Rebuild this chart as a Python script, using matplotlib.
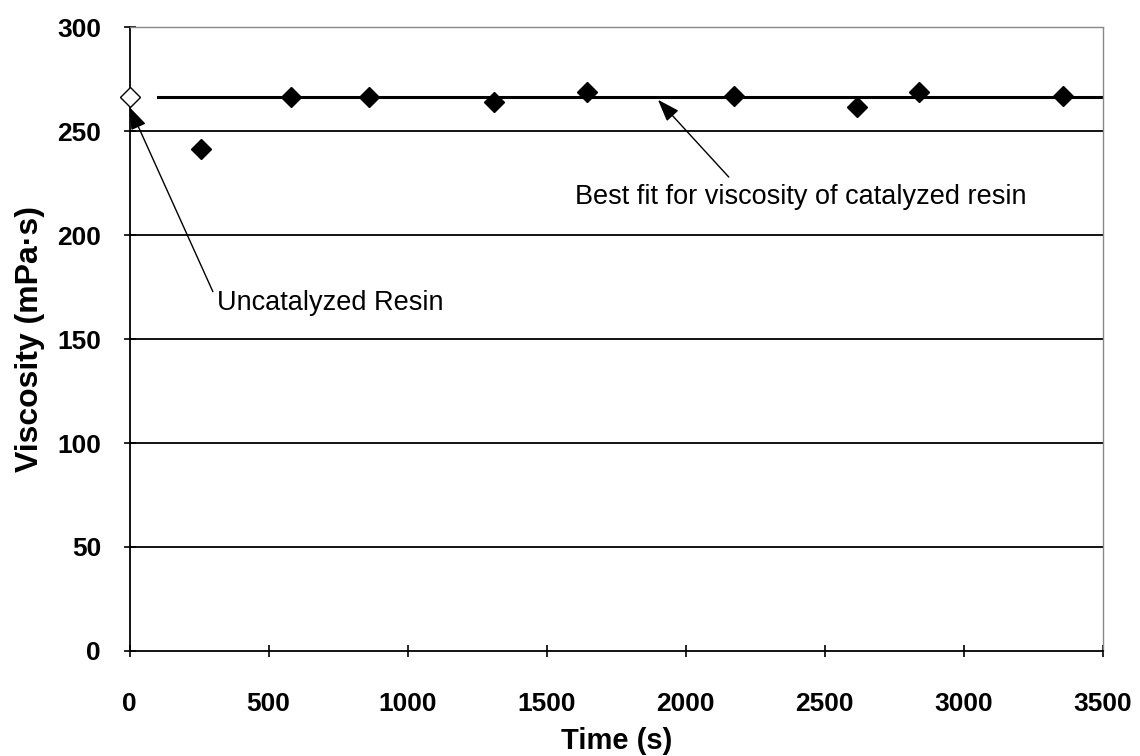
import matplotlib
matplotlib.use("Agg")
import matplotlib.pyplot as plt

# data
uncat_t = [0]
uncat_v = [266.5]
cat_t = [257, 581, 861, 1310, 1645, 2175, 2616, 2839, 3357]
cat_v = [241.3, 266.5, 266.5, 264.0, 268.8, 266.8, 261.7, 268.9, 266.8]
fit_t = [103, 3500]
fit_v = [266.3, 266.3]
x_ticks = [0, 500, 1000, 1500, 2000, 2500, 3000, 3500]
y_ticks = [0, 50, 100, 150, 200, 250, 300]

plt.rcParams['font.family'] = ['Liberation Sans', 'DejaVu Sans']

fig = plt.figure(figsize=(11.4, 7.56), dpi=100)
ax = fig.add_axes([129.5 / 1140, 1 - 651 / 756, (1103 - 129.5) / 1140, (651 - 27) / 756])
ax.set_xlim(0, 3500)
ax.set_ylim(0, 300)

for y in y_ticks[1:-1]:
    ax.axhline(y, color='black', lw=1.3, zorder=1)

ax.plot(fit_t, fit_v, color='black', lw=2.2, zorder=2)
ax.plot(cat_t, cat_v, linestyle='none', marker='D', ms=10.5, color='black', zorder=3)
ax.plot(uncat_t, uncat_v, linestyle='none', marker='D', ms=10, mfc='white', mec='black',
        mew=1.0, zorder=4, clip_on=False)

ax.set_xticks(x_ticks)
ax.set_yticks(y_ticks)
ax.tick_params(axis='both', direction='inout', length=9, width=1.2, labelsize=19)
ax.tick_params(axis='x', pad=25)
ax.tick_params(axis='y', pad=16)
for lbl in ax.get_xticklabels() + ax.get_yticklabels():
    lbl.set_fontweight('bold')

for s in ['top', 'right']:
    ax.spines[s].set_color('#888888')
    ax.spines[s].set_linestyle((0, (1, 1)))
    ax.spines[s].set_linewidth(1.0)
for s in ['left', 'bottom']:
    ax.spines[s].set_color('black')
    ax.spines[s].set_linewidth(1.3)

ax.set_xlabel('Time (s)', fontsize=21, fontweight='bold', labelpad=8)
ax.set_ylabel('Viscosity (mPa·s)', fontsize=23, fontweight='bold', labelpad=9)

ax.annotate('Uncatalyzed Resin', xy=(0, 261.5), xytext=(314, 167.3),
            ha='left', va='center', fontsize=19.5,
            arrowprops=dict(arrowstyle='-|>,head_length=0.7,head_width=0.25', color='black',
                            lw=1.0, shrinkA=2, shrinkB=0, relpos=(0, 0.6)))
ax.annotate('Best fit for viscosity of catalyzed resin', xy=(1900, 265), xytext=(1601, 218.3),
            ha='left', va='center', fontsize=19.5,
            arrowprops=dict(arrowstyle='-|>,head_length=0.7,head_width=0.25', color='black',
                            lw=1.0, shrinkA=4, shrinkB=0, relpos=(0.355, 1.0)))

fig.savefig('out.png', dpi=100)
